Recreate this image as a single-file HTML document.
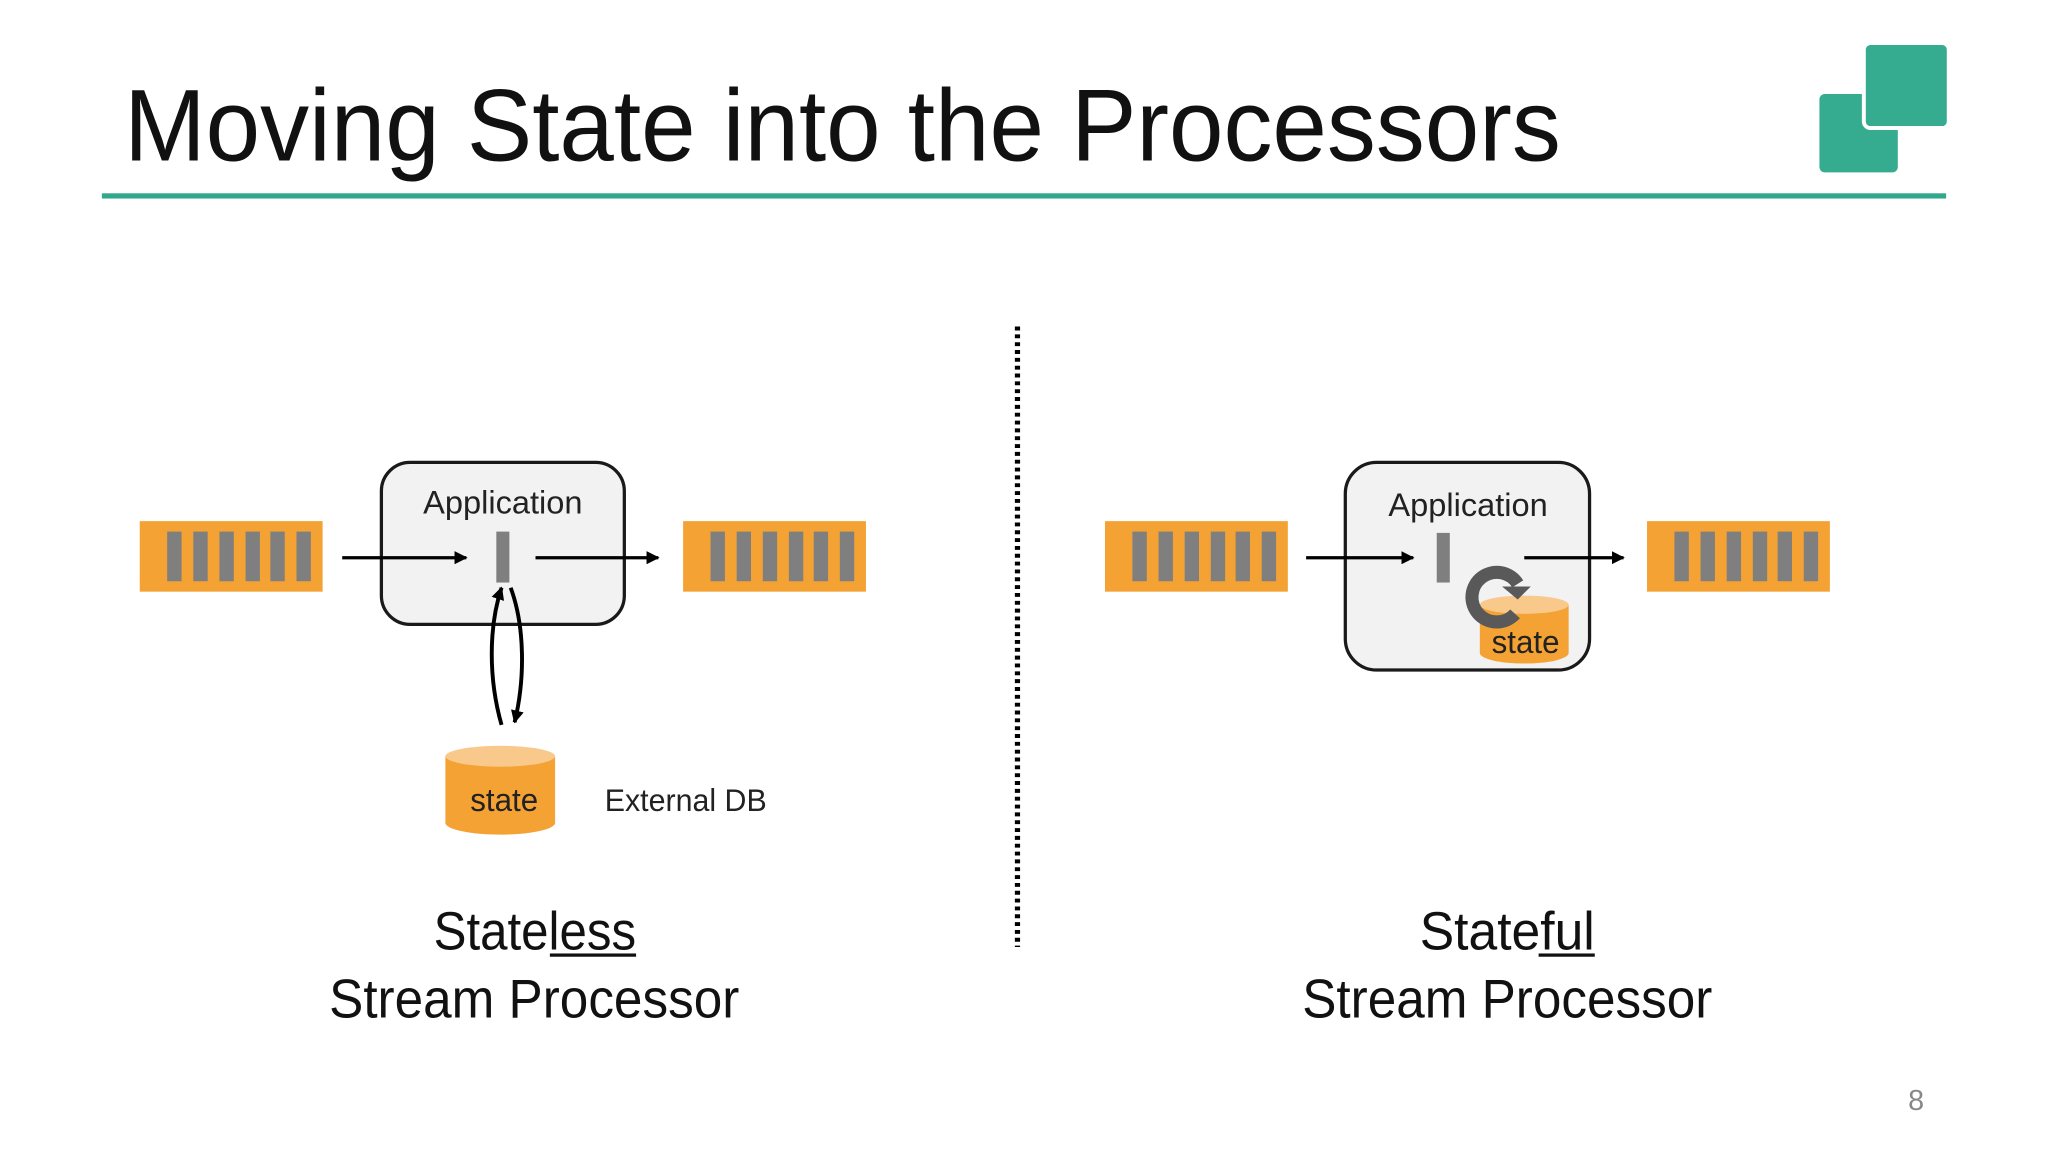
<!DOCTYPE html>
<html><head><style>html,body{margin:0;padding:0;background:#fff}svg{display:block}</style></head><body>
<svg width="2048" height="1152" viewBox="0 0 1568 882" xmlns="http://www.w3.org/2000/svg" font-family="'Liberation Sans', 'DejaVu Sans', sans-serif">
<defs>
<marker id="ah" markerWidth="10" markerHeight="10" refX="9" refY="5" orient="auto" markerUnits="userSpaceOnUse" viewBox="0 0 10 10"><path d="M0,0 L10,5 L0,10 z" fill="#000"/></marker>
<g id="q"><rect x="0" y="0" width="140" height="54" fill="#f4a234"/>
<rect x="21" y="8" width="11" height="38" fill="#7f7f7f"/><rect x="41" y="8" width="11" height="38" fill="#7f7f7f"/><rect x="61" y="8" width="11" height="38" fill="#7f7f7f"/><rect x="81" y="8" width="11" height="38" fill="#7f7f7f"/><rect x="100" y="8" width="11" height="38" fill="#7f7f7f"/><rect x="120" y="8" width="11" height="38" fill="#7f7f7f"/></g>
</defs>
<rect width="1568" height="882" fill="#fff"/>
<text x="95" y="123" font-size="78" fill="#111" textLength="1100" lengthAdjust="spacingAndGlyphs">Moving State into the Processors</text>
<rect x="78" y="148" width="1412" height="4" fill="#31a88c"/>
<rect x="1393" y="72" width="60" height="60" rx="4" fill="#35ab8f"/>
<rect x="1427" y="33" width="65" height="65" rx="5" fill="#35ab8f" stroke="#fff" stroke-width="3"/>
<line x1="779" y1="250" x2="779" y2="725" stroke="#000" stroke-width="4" stroke-dasharray="3,3"/>
<!-- left -->
<use href="#q" x="107" y="399"/>
<use href="#q" x="523" y="399"/>
<rect x="292" y="354" width="186" height="124" rx="22" fill="#f2f2f2" stroke="#1a1a1a" stroke-width="2.5"/>
<text x="385" y="393" font-size="25" text-anchor="middle" fill="#222" textLength="122" lengthAdjust="spacingAndGlyphs">Application</text>
<rect x="380" y="407" width="10" height="39" fill="#7f7f7f"/>
<line x1="262" y1="427" x2="357" y2="427" stroke="#000" stroke-width="2.5" marker-end="url(#ah)"/>
<line x1="410" y1="427" x2="504" y2="427" stroke="#000" stroke-width="2.5" marker-end="url(#ah)"/>
<path d="M384,555 C374,520 374,480 384,450" fill="none" stroke="#000" stroke-width="3" marker-end="url(#ah)"/>
<path d="M391,450 C402,480 402,520 394,553" fill="none" stroke="#000" stroke-width="3" marker-end="url(#ah)"/>
<path d="M341,579 L341,630 A42,9 0 0 0 425,630 L425,579 z" fill="#f4a234"/>
<ellipse cx="383" cy="579" rx="42" ry="8" fill="#f8c98a"/>
<text x="386" y="621" font-size="25" text-anchor="middle" fill="#222" textLength="52" lengthAdjust="spacingAndGlyphs">state</text>
<text x="463" y="621" font-size="24" fill="#222" textLength="124" lengthAdjust="spacingAndGlyphs">External DB</text>
<text x="332" y="727" font-size="41" fill="#111" textLength="155" lengthAdjust="spacingAndGlyphs">Stateless</text>
<rect x="421" y="730" width="66" height="2.5" fill="#111"/>
<text x="252" y="779" font-size="42" fill="#111" textLength="314" lengthAdjust="spacingAndGlyphs">Stream Processor</text>
<!-- right -->
<use href="#q" x="846" y="399"/>
<use href="#q" x="1261" y="399"/>
<rect x="1030" y="354" width="187" height="159" rx="24" fill="#f2f2f2" stroke="#1a1a1a" stroke-width="2.5"/>
<text x="1124" y="395" font-size="25" text-anchor="middle" fill="#222" textLength="122" lengthAdjust="spacingAndGlyphs">Application</text>
<rect x="1100" y="408" width="10" height="38" fill="#7f7f7f"/>
<line x1="1000" y1="427" x2="1082" y2="427" stroke="#000" stroke-width="2.5" marker-end="url(#ah)"/>
<line x1="1167" y1="427" x2="1243" y2="427" stroke="#000" stroke-width="2.5" marker-end="url(#ah)"/>
<path d="M1133,463 L1133,500 A34,8 0 0 0 1201,500 L1201,463 z" fill="#f4a234"/>
<ellipse cx="1167" cy="463" rx="34" ry="7" fill="#f8c98a"/>
<path d="M1162,447 A19,19 0 1 0 1160,470" fill="none" stroke="#595959" stroke-width="10"/>
<path d="M1150,449 L1172,449 L1162,459 z" fill="#595959"/>
<text x="1168" y="500" font-size="25" text-anchor="middle" fill="#222" textLength="52" lengthAdjust="spacingAndGlyphs">state</text>
<text x="1087" y="727" font-size="41" fill="#111" textLength="134" lengthAdjust="spacingAndGlyphs">Stateful</text>
<rect x="1178" y="730" width="43" height="2.5" fill="#111"/>
<text x="997" y="779" font-size="42" fill="#111" textLength="314" lengthAdjust="spacingAndGlyphs">Stream Processor</text>
<text x="1467" y="850" font-size="22" text-anchor="middle" fill="#888">8</text>
</svg>
</body></html>
